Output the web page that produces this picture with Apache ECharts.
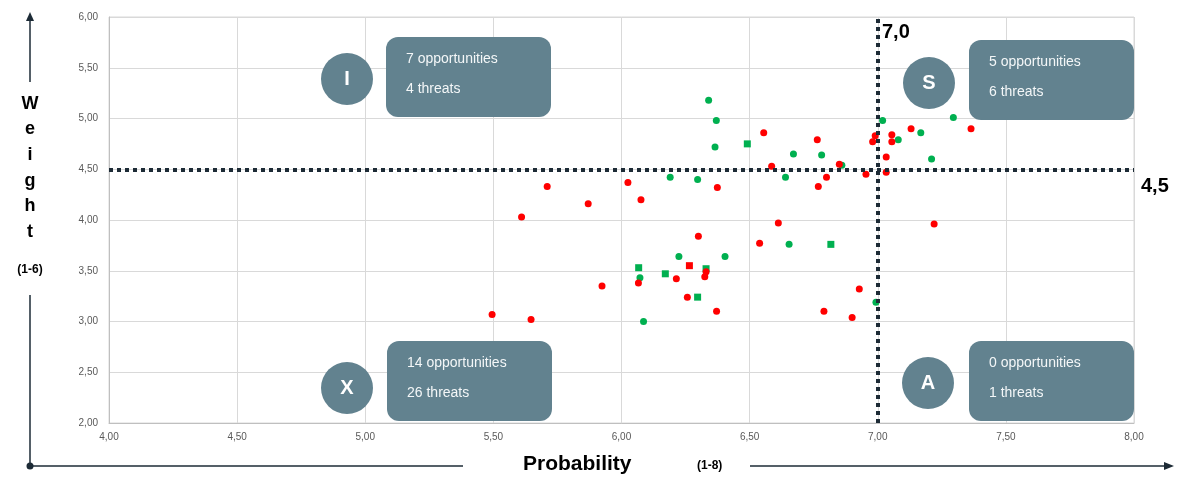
<!DOCTYPE html>
<html>
<head>
<meta charset="utf-8">
<script src="https://cdn.jsdelivr.net/npm/echarts@6/dist/echarts.min.js"></script>
<style>
  html, body { margin: 0; padding: 0; background: #fff; }
  #main { width: 1183px; height: 478px; }
</style>
</head>
<body>
<div id="main"></div>
<script>
// probability (x), weight (y)
var greenDots = [
  [6.34, 5.18], [6.37, 4.98], [6.365, 4.72], [6.19, 4.42], [6.297, 4.40],
  [6.224, 3.64], [6.072, 3.43], [6.086, 3.00], [6.671, 4.65], [6.781, 4.64],
  [6.64, 4.42], [6.654, 3.76], [6.404, 3.64], [7.019, 4.98], [7.08, 4.79],
  [7.168, 4.86], [7.295, 5.01], [7.21, 4.60], [6.993, 3.19], [6.86, 4.54]
];
var greenSquares = [
  [6.067, 3.53], [6.33, 3.52], [6.171, 3.47], [6.297, 3.24], [6.491, 4.75], [6.817, 3.76]
];
var redDots = [
  [5.71, 4.33], [5.61, 4.03], [5.87, 4.16], [6.025, 4.37], [6.076, 4.20],
  [6.374, 4.32], [6.30, 3.84], [6.33, 3.49], [6.325, 3.44], [6.066, 3.38],
  [6.214, 3.42], [5.924, 3.35], [6.257, 3.24], [6.371, 3.10], [5.495, 3.07],
  [5.647, 3.02], [6.555, 4.86], [6.764, 4.79], [6.85, 4.55], [6.586, 4.53],
  [6.80, 4.42], [6.768, 4.33], [6.954, 4.45], [6.99, 4.83], [7.055, 4.84],
  [6.98, 4.77], [7.055, 4.77], [7.13, 4.90], [7.033, 4.62], [7.033, 4.47],
  [7.22, 3.96], [6.612, 3.97], [6.539, 3.77], [6.928, 3.32], [6.79, 3.10],
  [6.90, 3.04], [7.364, 4.90]
];
var redSquares = [
  [6.265, 3.55]
];
var probLine = 7.0;
var weightLine = 4.5;

var quadrants = [
  { letter: 'I', lines: ['7 opportunities', '4 threats'], cx: 347, cy: 79, bx: 386, by: 37 },
  { letter: 'S', lines: ['5 opportunities', '6 threats'], cx: 929, cy: 83, bx: 969, by: 40 },
  { letter: 'X', lines: ['14 opportunities', '26 threats'], cx: 347, cy: 388, bx: 387, by: 341 },
  { letter: 'A', lines: ['0 opportunities', '1 threats'], cx: 928, cy: 383, bx: 969, by: 341 }
];

var dom = document.getElementById('main');
var myChart = echarts.init(dom);

var slate = '#62828f';
var ink = '#1d2b36';

function commaFmt(v) {
  return v.toFixed(2).replace('.', ',');
}

var graphics = [];
quadrants.forEach(function (q) {
  graphics.push({
    type: 'rect',
    shape: { x: q.bx, y: q.by, width: 165, height: 80, r: 12 },
    style: { fill: slate },
    z: 100
  });
  graphics.push({
    type: 'text',
    x: q.bx + 20, y: q.by + 22,
    style: { text: q.lines[0], fill: '#f4f7f8', font: '14px "Liberation Sans", Arial', textVerticalAlign: 'middle' },
    z: 101
  });
  graphics.push({
    type: 'text',
    x: q.bx + 20, y: q.by + 52,
    style: { text: q.lines[1], fill: '#f4f7f8', font: '14px "Liberation Sans", Arial', textVerticalAlign: 'middle' },
    z: 101
  });
  graphics.push({
    type: 'circle',
    shape: { cx: q.cx, cy: q.cy, r: 26 },
    style: { fill: slate },
    z: 100
  });
  graphics.push({
    type: 'text',
    x: q.cx, y: q.cy,
    style: { text: q.letter, fill: '#ffffff', font: 'bold 20px "Liberation Sans", Arial', textAlign: 'center', textVerticalAlign: 'middle' },
    z: 101
  });
});

// axis titles and arrows
graphics.push(
  { type: 'line', shape: { x1: 30, y1: 18, x2: 30, y2: 82 }, style: { stroke: ink, lineWidth: 1.5 } },
  { type: 'polygon', shape: { points: [[26, 21], [34, 21], [30, 12]] }, style: { fill: ink } },
  { type: 'line', shape: { x1: 30, y1: 295, x2: 30, y2: 466 }, style: { stroke: ink, lineWidth: 1.5 } },
  { type: 'circle', shape: { cx: 30, cy: 466, r: 3.5 }, style: { fill: ink } },
  { type: 'line', shape: { x1: 30, y1: 466, x2: 463, y2: 466 }, style: { stroke: ink, lineWidth: 1.5 } },
  { type: 'line', shape: { x1: 750, y1: 466, x2: 1166, y2: 466 }, style: { stroke: ink, lineWidth: 1.5 } },
  { type: 'polygon', shape: { points: [[1164, 462], [1164, 470], [1174, 466]] }, style: { fill: ink } },
  {
    type: 'text', x: 30, y: 91,
    style: { text: 'W\ne\ni\ng\nh\nt', fill: '#000', font: 'bold 18px "Liberation Sans", Arial', textAlign: 'center', lineHeight: 25.6 }
  },
  {
    type: 'text', x: 30, y: 270,
    style: { text: '(1-6)', fill: '#000', font: 'bold 12px "Liberation Sans", Arial', textAlign: 'center', textVerticalAlign: 'middle' }
  },
  {
    type: 'text', x: 523, y: 464,
    style: { text: 'Probability', fill: '#000', font: 'bold 21px "Liberation Sans", Arial', textVerticalAlign: 'middle' }
  },
  {
    type: 'text', x: 697, y: 466,
    style: { text: '(1-8)', fill: '#000', font: 'bold 12px "Liberation Sans", Arial', textVerticalAlign: 'middle' }
  },
  {
    type: 'text', x: 882, y: 32,
    style: { text: '7,0', fill: '#000', font: 'bold 20px "Liberation Sans", Arial', textVerticalAlign: 'middle' }
  },
  {
    type: 'text', x: 1141, y: 186,
    style: { text: '4,5', fill: '#000', font: 'bold 20px "Liberation Sans", Arial', textVerticalAlign: 'middle' }
  }
);

var option = {
  backgroundColor: '#ffffff',
  animation: false,
  grid: {
    left: 109, right: 49, top: 17, bottom: 55,
    show: true, borderColor: '#d9d9d9', borderWidth: 1
  },
  xAxis: {
    type: 'value', min: 4, max: 8, interval: 0.5,
    axisLine: { show: true, lineStyle: { color: '#bfbfbf' } },
    axisTick: { show: false },
    splitLine: { show: true, lineStyle: { color: '#d9d9d9', width: 1 } },
    axisLabel: { formatter: commaFmt, color: '#595959', fontSize: 10, margin: 9, fontFamily: '"Liberation Sans", Arial' }
  },
  yAxis: {
    type: 'value', min: 2, max: 6, interval: 0.5,
    axisLine: { show: true, lineStyle: { color: '#bfbfbf' } },
    axisTick: { show: false },
    splitLine: { show: true, lineStyle: { color: '#d9d9d9', width: 1 } },
    axisLabel: { formatter: commaFmt, color: '#595959', fontSize: 10, margin: 11, fontFamily: '"Liberation Sans", Arial' }
  },
  series: [
    { type: 'scatter', data: greenDots, symbol: 'circle', symbolSize: 7, itemStyle: { color: '#00b050', opacity: 1 } },
    { type: 'scatter', data: greenSquares, symbol: 'rect', symbolSize: 7, itemStyle: { color: '#00b050', opacity: 1 } },
    { type: 'scatter', data: redDots, symbol: 'circle', symbolSize: 7, itemStyle: { color: '#ff0000', opacity: 1 } },
    { type: 'scatter', data: redSquares, symbol: 'rect', symbolSize: 7, itemStyle: { color: '#ff0000', opacity: 1 } },
    {
      type: 'scatter', data: [], z: 5,
      markLine: {
        silent: true,
        symbol: ['none', 'none'],
        label: { show: false },
        lineStyle: { color: ink, width: 4, type: [4, 4] },
        data: [{ xAxis: probLine }, { yAxis: weightLine }]
      }
    }
  ],
  graphic: graphics
};

if (option && typeof option === 'object') {
  myChart.setOption(option);
}

window.onresize = function () {
  myChart.resize();
};
</script>
</body>
</html>
